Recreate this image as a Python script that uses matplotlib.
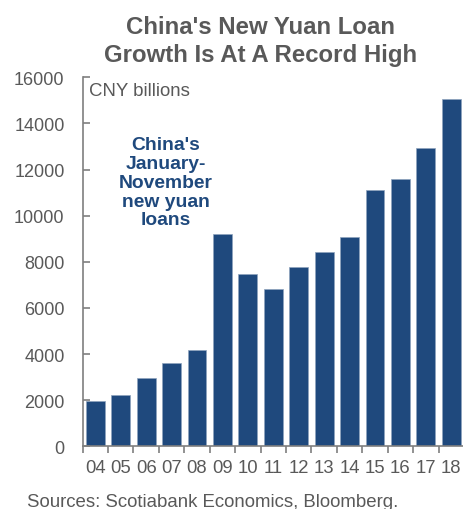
import numpy as np
import matplotlib
matplotlib.use("Agg")
import matplotlib.pyplot as plt
from matplotlib.ticker import FixedLocator, NullFormatter

plt.rcParams['font.family'] = ['Liberation Sans', 'DejaVu Sans']

# Jan-Nov new yuan loans, CNY billions
years = ["04", "05", "06", "07", "08", "09", "10", "11", "12", "13", "14", "15", "16", "17", "18"]
loans = [1970, 2240, 2960, 3610, 4160, 9220, 7470, 6830, 7760, 8410, 9090, 11110, 11600, 12940, 15060]
yticks = [0, 2000, 4000, 6000, 8000, 10000, 12000, 14000, 16000]

BAR = "#1f497d"
GREY = "#595959"
AXC = "#7f7f7f"

fig = plt.figure(figsize=(4.64, 5.10), dpi=100)
ax = fig.add_axes([0.178, 0.123, 0.822, 0.7235])

x = np.arange(len(years))
ax.bar(x, loans, width=0.74, color=BAR, edgecolor="#8ea3bd", linewidth=0.5)

ax.set_xlim(-0.5, len(years) - 0.5)
ax.set_ylim(0, 16000)

# y axis: ticks pointing inward, labels pushed away from the spine
ax.set_yticks(yticks)
ax.set_yticklabels([str(v) for v in yticks])
ax.tick_params(axis='y', direction='in', length=5, width=1.2, color=AXC,
               labelsize=13, labelcolor=GREY, pad=13)

# x axis: labels centred on bars, tick marks between categories
ax.set_xticks(x)
ax.set_xticklabels(years)
ax.tick_params(axis='x', which='major', length=0, labelsize=13.3, labelcolor=GREY, pad=9)
ax.xaxis.set_minor_locator(FixedLocator(np.arange(-0.5, len(years), 1.0)))
ax.xaxis.set_minor_formatter(NullFormatter())
ax.tick_params(axis='x', which='minor', direction='out', length=5, width=1.2, color=AXC)

for side in ['top', 'right']:
    ax.spines[side].set_visible(False)
for side in ['left', 'bottom']:
    ax.spines[side].set_color(AXC)
    ax.spines[side].set_linewidth(1.2)

ax.text(0.018, 0.988, "CNY billions", transform=ax.transAxes, fontsize=13.4,
        color=GREY, ha='left', va='top')

ax.text(2.77, 11450, "China's\nJanuary-\nNovember\nnew yuan\nloans", fontsize=13.9,
        fontweight='bold', color=BAR, ha='center', va='center', linespacing=1.14)

fig.text(0.562, 0.919, "China's New Yuan Loan\nGrowth Is At A Record High", fontsize=17.3,
         fontweight='bold', color=GREY, ha='center', va='center', linespacing=1.25)

fig.text(0.058, 0.006, "Sources: Scotiabank Economics, Bloomberg.", fontsize=13.4,
         color=GREY, ha='left', va='baseline')

fig.savefig("out.png", dpi=100)
